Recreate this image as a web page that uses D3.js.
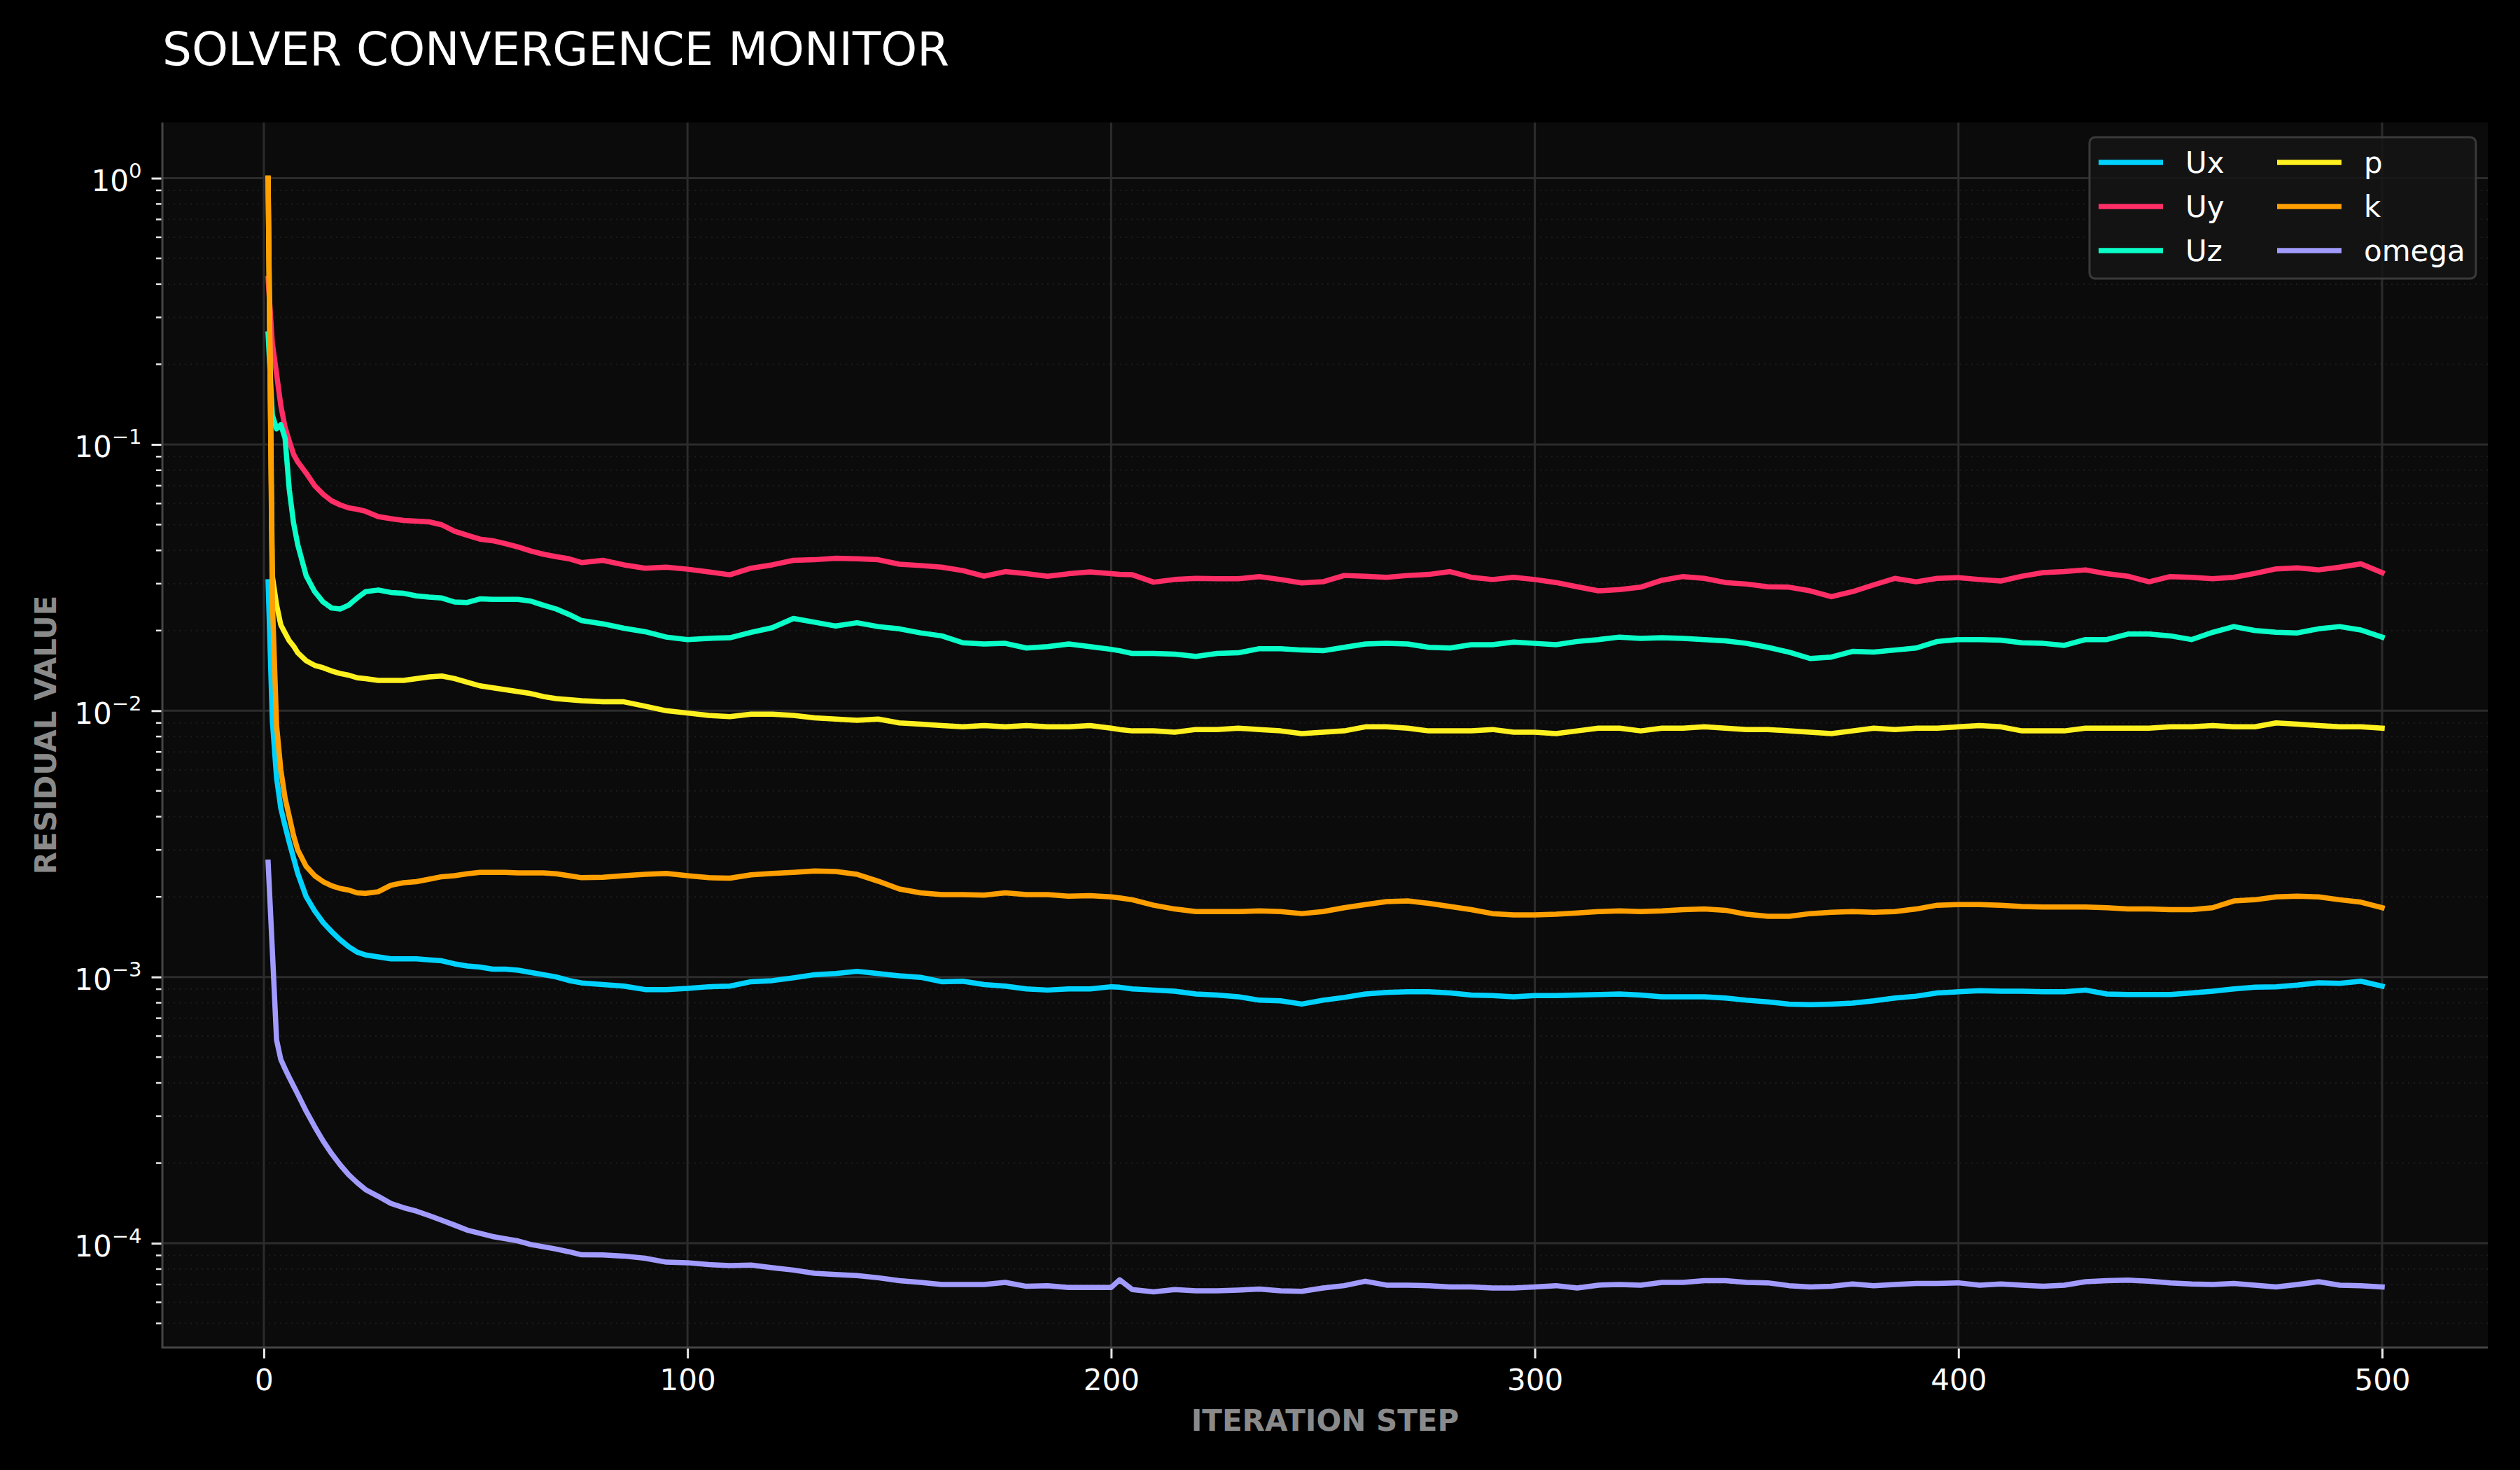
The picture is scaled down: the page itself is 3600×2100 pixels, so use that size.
<!DOCTYPE html>
<html>
<head>
<meta charset="utf-8">
<script src="https://cdn.jsdelivr.net/npm/d3@7"></script>
<style>
  html, body { margin: 0; padding: 0; background: #000; }
  svg { display: block; }
  text { font-family: "DejaVu Sans", sans-serif; }
</style>
</head>
<body>
<div id="chart"></div>
<script>
// iteration steps shared by every series
const steps = [
  1, 2, 3, 4, 5, 6, 7, 8, 10, 12, 14, 16, 18, 20, 22, 24, 27, 30, 33, 36, 39, 42, 45, 48, 51, 54, 57, 60, 63, 66, 69, 72, 75,
  80, 85, 90, 95, 100, 105, 110, 115, 120, 125, 130, 135, 140, 145, 150, 155, 160, 165, 170, 175, 180, 185, 190, 195, 200,
  202,
  205, 210, 215, 220, 225, 230, 235, 240, 245, 250, 255, 260, 265, 270, 275, 280, 285,
  290, 295, 300, 305, 310, 315, 320, 325, 330, 335, 340, 345, 350, 355, 360, 365, 370, 375, 380, 385, 390, 395,
  400, 405, 410, 415, 420, 425, 430, 435, 440, 445, 450, 455, 460, 465, 470, 475, 480, 485, 490, 495, 500
];

const seriesNames = ["Ux", "Uy", "Uz", "p", "k", "omega"];
const seriesColors = ["#00d2ff", "#ff2e66", "#0affc8", "#fff01f", "#ff9f00", "#a29bfe"];
const xTicks = [0, 100, 200, 300, 400, 500];
const yMajorTicks = [1, 0.1, 0.01, 0.001, 0.0001];

const ux = [
  0.0305, 0.0092, 0.0056, 0.0043, 0.0037, 0.0032, 0.0028, 0.00245, 0.0020, 0.00177, 0.0016, 0.00148, 0.00138, 0.0013, 0.00124, 0.00121,
  0.00119, 0.00117, 0.00117, 0.00117, 0.00116, 0.00115, 0.00112, 0.0011, 0.00109, 0.00107, 0.00107, 0.00106, 0.00104, 0.00102, 0.0010, 0.00097, 0.00095,
  0.000937, 0.000924, 0.000897, 0.000897, 0.000906, 0.000919, 0.000924, 0.00096, 0.000969, 0.000993, 0.00102, 0.00103, 0.00105,
  0.00103, 0.00101, 0.000997, 0.00096, 0.000964, 0.000937, 0.000924, 0.000902, 0.000893, 0.000902, 0.000902, 0.000919,
  0.000915,
  0.000902, 0.000893, 0.000884, 0.000863, 0.000855, 0.000843, 0.000818, 0.000814, 0.000791, 0.000818, 0.000838, 0.000863, 0.000875, 0.00088, 0.00088, 0.000871, 0.000855,
  0.000851, 0.000843, 0.000851, 0.000851, 0.000855, 0.000859, 0.000863, 0.000855, 0.000843, 0.000843, 0.000843, 0.000834, 0.000818, 0.000806, 0.000791, 0.000787, 0.000791, 0.000798, 0.000814, 0.000834, 0.000847, 0.000871,
  0.00088, 0.000888, 0.000884, 0.000884, 0.00088, 0.00088, 0.000893, 0.000863, 0.000859, 0.000859, 0.000859, 0.000871, 0.000884, 0.000902, 0.000915, 0.000919, 0.000932, 0.000951, 0.000946, 0.000964, 0.000924
];

const uy = [
  0.42, 0.24, 0.184, 0.140, 0.116, 0.103, 0.092, 0.086, 0.078, 0.070, 0.065, 0.0614, 0.0593, 0.0578, 0.0571, 0.0561,
  0.0536, 0.0526, 0.0518, 0.0515, 0.0512, 0.0499, 0.0472, 0.0456, 0.0441, 0.0435, 0.0424, 0.0412, 0.0398, 0.0387, 0.0379, 0.0372, 0.0360,
  0.0367, 0.0353, 0.0343, 0.0346, 0.0340, 0.0332, 0.0324, 0.0343, 0.0353, 0.0367, 0.0369, 0.0374, 0.0372,
  0.0369, 0.0355, 0.0351, 0.0346, 0.0336, 0.0320, 0.0333, 0.0327, 0.0320, 0.0327, 0.0332, 0.0327,
  0.0325,
  0.0324, 0.0304, 0.0311, 0.0314, 0.0313, 0.0313, 0.0319, 0.0311, 0.0302, 0.0305, 0.0322, 0.0320, 0.0317, 0.0322, 0.0325, 0.0333, 0.0317,
  0.0311, 0.0317, 0.0311, 0.0303, 0.0292, 0.0282, 0.0285, 0.0291, 0.0309, 0.0319, 0.0314, 0.0303, 0.0299, 0.0292, 0.0291, 0.0282, 0.0268, 0.0280, 0.0297, 0.0314, 0.0305, 0.0314,
  0.0316, 0.0311, 0.0307, 0.0320, 0.0330, 0.0333, 0.0338, 0.0327, 0.0320, 0.0305, 0.0319, 0.0317, 0.0313, 0.0317, 0.0328, 0.0341, 0.0344, 0.0338, 0.0346, 0.0356, 0.0330
];

const uz = [
  0.26, 0.129, 0.1145, 0.1186, 0.1056, 0.0676, 0.0508, 0.042, 0.0321, 0.028, 0.0256, 0.0243, 0.0241, 0.0249, 0.0265, 0.028,
  0.0284, 0.0278, 0.0276, 0.027, 0.0267, 0.0265, 0.0256, 0.0255, 0.0263, 0.0262, 0.0262, 0.0262, 0.0258, 0.0249, 0.0241, 0.0230, 0.0218,
  0.0212, 0.0204, 0.0198, 0.0189, 0.0185, 0.0187, 0.0188, 0.0197, 0.0205, 0.0222, 0.0215, 0.0208, 0.0214,
  0.0207, 0.0203, 0.0196, 0.0191, 0.0180, 0.0178, 0.0179, 0.0172, 0.0174, 0.0178, 0.0174, 0.0170,
  0.0168,
  0.0164, 0.0164, 0.0163, 0.0160, 0.0164, 0.0165, 0.0171, 0.0171, 0.0169, 0.0168, 0.0173, 0.0178, 0.0179, 0.0178, 0.0173, 0.0172, 0.0177,
  0.0177, 0.0181, 0.0179, 0.0177, 0.0182, 0.0185, 0.0189, 0.0187, 0.0188, 0.0187, 0.0185, 0.0183, 0.0179, 0.0173, 0.0166, 0.0157, 0.0159, 0.0167, 0.0166, 0.0169, 0.0172, 0.0182,
  0.0185, 0.0185, 0.0184, 0.0180, 0.0179, 0.0176, 0.0185, 0.0185, 0.0194, 0.0194, 0.0191, 0.0185, 0.0197, 0.0207, 0.0200, 0.0197, 0.0196, 0.0203, 0.0207, 0.0201, 0.0189
];

const p = [
  1.0, 0.032, 0.025, 0.021, 0.0196, 0.0183, 0.0175, 0.0165, 0.0154, 0.0148, 0.0145, 0.0141, 0.0138, 0.0136, 0.0133, 0.0132,
  0.0130, 0.0130, 0.0130, 0.0132, 0.0134, 0.0135, 0.0132, 0.0128, 0.0124, 0.0122, 0.0120, 0.0118, 0.0116, 0.0113, 0.0111, 0.0110, 0.0109,
  0.0108, 0.0108, 0.0104, 0.0100, 0.0098, 0.0096, 0.0095, 0.0097, 0.0097, 0.0096, 0.0094, 0.0093, 0.0092,
  0.0093, 0.0090, 0.0089, 0.0088, 0.0087, 0.0088, 0.0087, 0.0088, 0.0087, 0.0087, 0.0088, 0.0086,
  0.0085,
  0.0084, 0.0084, 0.0083, 0.0085, 0.0085, 0.0086, 0.0085, 0.0084, 0.0082, 0.0083, 0.0084, 0.0087, 0.0087, 0.0086, 0.0084, 0.0084, 0.0084,
  0.0085, 0.0083, 0.0083, 0.0082, 0.0084, 0.0086, 0.0086, 0.0084, 0.0086, 0.0086, 0.0087, 0.0086, 0.0085, 0.0085, 0.0084, 0.0083, 0.0082, 0.0084, 0.0086, 0.0085, 0.0086, 0.0086,
  0.0087, 0.0088, 0.0087, 0.0084, 0.0084, 0.0084, 0.0086, 0.0086, 0.0086, 0.0086, 0.0087, 0.0087, 0.0088, 0.0087, 0.0087, 0.0090, 0.0089, 0.0088, 0.0087, 0.0087, 0.0086
];

const k = [
  1.0, 0.026, 0.0088, 0.0060, 0.0047, 0.0040, 0.0034, 0.0030, 0.0026, 0.0024, 0.00228, 0.0022, 0.00215, 0.00212, 0.00207, 0.00206,
  0.00209, 0.00221, 0.00226, 0.00228, 0.00233, 0.00238, 0.0024, 0.00244, 0.00247, 0.00247, 0.00247, 0.00246, 0.00246, 0.00246, 0.00244, 0.0024, 0.00236,
  0.00237, 0.0024, 0.00243, 0.00245, 0.0024, 0.00236, 0.00235, 0.00242, 0.00245, 0.00247, 0.0025, 0.00249, 0.00243,
  0.00229, 0.00214, 0.00207, 0.00204, 0.00204, 0.00203, 0.00207, 0.00204, 0.00204, 0.00201, 0.00202, 0.0020,
  0.00198,
  0.00195, 0.00186, 0.0018, 0.00176, 0.00176, 0.00176, 0.00177, 0.00176, 0.00173, 0.00176, 0.00182, 0.00187, 0.00192, 0.00193, 0.00189, 0.00184, 0.00179,
  0.00173, 0.00171, 0.00171, 0.00172, 0.00174, 0.00176, 0.00177, 0.00176, 0.00177, 0.00179, 0.0018, 0.00178, 0.00172, 0.00169, 0.00169, 0.00173, 0.00175, 0.00176, 0.00175, 0.00176, 0.0018, 0.00186,
  0.00187, 0.00187, 0.00186, 0.00184, 0.00183, 0.00183, 0.00183, 0.00182, 0.0018, 0.0018, 0.00179, 0.00179, 0.00182, 0.00193, 0.00195, 0.002, 0.00201, 0.002, 0.00195, 0.00191, 0.00182
];

const omega = [
  0.0027, 0.00126, 0.00058, 0.00049, 0.000452, 0.000419, 0.00039, 0.000363, 0.000313, 0.000274, 0.000242, 0.000217, 0.000197, 0.000181, 0.000169, 0.000159,
  0.00015, 0.000141, 0.000136, 0.000132, 0.000127, 0.000122, 0.000117, 0.000112, 0.000109, 0.000106, 0.000104, 0.000102, 0.0000989, 0.000097, 0.0000951, 0.0000929, 0.0000905,
  0.0000904, 0.0000895, 0.0000878, 0.0000849, 0.0000845, 0.0000832, 0.0000824, 0.0000828, 0.0000809, 0.0000793, 0.0000771, 0.0000763, 0.0000756,
  0.0000742, 0.0000724, 0.0000713, 0.00007, 0.00007, 0.00007, 0.0000713, 0.0000689, 0.0000693, 0.0000682, 0.0000682, 0.0000682,
  0.0000729,
  0.000067, 0.0000657, 0.000067, 0.0000663, 0.0000663, 0.0000667, 0.0000673, 0.0000663, 0.000066, 0.0000679, 0.0000693, 0.000072, 0.0000696, 0.0000696, 0.0000693, 0.0000685, 0.0000685,
  0.0000679, 0.0000679, 0.0000685, 0.0000693, 0.0000679, 0.0000696, 0.00007, 0.0000696, 0.0000713, 0.0000713, 0.0000724, 0.0000724, 0.0000713, 0.000071, 0.0000693, 0.0000685, 0.0000689, 0.0000703, 0.0000693, 0.00007, 0.0000706, 0.0000706,
  0.000071, 0.0000696, 0.0000703, 0.0000696, 0.0000689, 0.0000696, 0.0000717, 0.0000724, 0.0000727, 0.000072, 0.000071, 0.0000703, 0.00007, 0.0000706, 0.0000696, 0.0000685, 0.00007, 0.0000717, 0.0000696, 0.0000693, 0.0000685
];

const seriesValues = [ux, uy, uz, p, k, omega];

// ---- layout ----
const width = 3600, height = 2100;
const margin = { left: 232, top: 175, right: 46, bottom: 175 };
const plotRight = width - margin.right;
const plotBottom = height - margin.bottom;

const svg = d3.select("#chart")
  .append("svg")
  .attr("width", width)
  .attr("height", height)
  .style("background", "#000");

svg.append("rect")
  .attr("width", width).attr("height", height).attr("fill", "#000");

// scales, with matplotlib-like 5% margins
const xPad = (d3.max(steps) - d3.min(steps)) * 0.05;
const x = d3.scaleLinear()
  .domain([d3.min(steps) - xPad, d3.max(steps) + xPad])
  .range([margin.left, plotRight]);

const allValues = seriesValues.flat();
const lMin = Math.log10(d3.min(allValues));
const lMax = Math.log10(d3.max(allValues));
const lPad = (lMax - lMin) * 0.05;
const y = d3.scaleLog()
  .domain([Math.pow(10, lMin - lPad), Math.pow(10, lMax + lPad)])
  .range([plotBottom, margin.top]);

// plot background
svg.append("rect")
  .attr("x", margin.left).attr("y", margin.top)
  .attr("width", plotRight - margin.left)
  .attr("height", plotBottom - margin.top)
  .attr("fill", "#0b0b0b");

// minor grid (dotted) and major grid
const minorTicks = y.ticks().filter(d => !yMajorTicks.some(m => Math.abs(m - d) / m < 1e-6));

svg.append("g")
  .selectAll("line")
  .data(minorTicks)
  .enter()
  .append("line")
    .attr("x1", margin.left).attr("x2", plotRight)
    .attr("y1", d => y(d)).attr("y2", d => y(d))
    .attr("stroke", "#1c1c1c")
    .attr("stroke-width", 2)
    .attr("stroke-dasharray", "2 6");

const grid = svg.append("g").attr("stroke", "#2c2c2c").attr("stroke-width", 3);
grid.selectAll(".hgrid")
  .data(yMajorTicks)
  .enter()
  .append("line")
    .attr("class", "hgrid")
    .attr("x1", margin.left).attr("x2", plotRight)
    .attr("y1", d => y(d)).attr("y2", d => y(d));
grid.selectAll(".vgrid")
  .data(xTicks)
  .enter()
  .append("line")
    .attr("class", "vgrid")
    .attr("x1", d => x(d)).attr("x2", d => x(d))
    .attr("y1", margin.top).attr("y2", plotBottom);

// lines
svg.append("clipPath").attr("id", "plot-clip")
  .append("rect")
    .attr("x", margin.left).attr("y", margin.top)
    .attr("width", plotRight - margin.left)
    .attr("height", plotBottom - margin.top);

const line = d3.line()
  .x((d, i) => x(steps[i]))
  .y(d => y(d));

svg.append("g")
  .attr("clip-path", "url(#plot-clip)")
  .selectAll(".series")
  .data(seriesValues)
  .enter()
  .append("path")
    .attr("class", "series")
    .attr("d", line)
    .attr("fill", "none")
    .attr("stroke", (d, i) => seriesColors[i])
    .attr("stroke-width", 7.5)
    .attr("stroke-linejoin", "round")
    .attr("stroke-linecap", "square");

// spines
svg.append("line")
  .attr("x1", margin.left).attr("x2", margin.left)
  .attr("y1", margin.top).attr("y2", plotBottom)
  .attr("stroke", "#454545").attr("stroke-width", 3);
svg.append("line")
  .attr("x1", margin.left - 1.5).attr("x2", plotRight)
  .attr("y1", plotBottom).attr("y2", plotBottom)
  .attr("stroke", "#454545").attr("stroke-width", 3);

// x axis
const gx = svg.append("g")
  .attr("transform", "translate(0," + (plotBottom + 1.5) + ")")
  .call(d3.axisBottom(x).tickValues(xTicks).tickSize(14).tickPadding(16).tickFormat(d3.format("d")));
gx.select(".domain").remove();
gx.selectAll(".tick line").attr("stroke", "#e8e8e8").attr("stroke-width", 3);
gx.selectAll(".tick text")
  .attr("fill", "#ffffff")
  .style("font-family", "DejaVu Sans")
  .style("font-size", "42px");

// y axis: major ticks with 10^n labels
const gy = svg.append("g")
  .attr("transform", "translate(" + (margin.left - 1.5) + ",0)")
  .call(d3.axisLeft(y).tickValues(yMajorTicks).tickSize(14).tickFormat(""));
gy.select(".domain").remove();
gy.selectAll(".tick line").attr("stroke", "#e8e8e8").attr("stroke-width", 3);
gy.selectAll(".tick").each(function(d) {
  const e = Math.round(Math.log10(d));
  const t = d3.select(this).append("text")
    .attr("x", -28)
    .attr("y", 18)
    .attr("text-anchor", "end")
    .attr("fill", "#ffffff")
    .style("font-family", "DejaVu Sans")
    .style("font-size", "42px");
  t.append("tspan").text("10");
  t.append("tspan")
    .attr("dy", -19)
    .style("font-size", "29px")
    .text(e < 0 ? "\u2212" + Math.abs(e) : String(e));
});

// y minor ticks
svg.append("g")
  .selectAll("line")
  .data(minorTicks)
  .enter()
  .append("line")
    .attr("x1", margin.left - 9).attr("x2", margin.left - 1.5)
    .attr("y1", d => y(d)).attr("y2", d => y(d))
    .attr("stroke", "#e8e8e8")
    .attr("stroke-width", 2.5);

// axis labels
svg.append("text")
  .attr("x", (margin.left + plotRight) / 2)
  .attr("y", 2044)
  .attr("text-anchor", "middle")
  .attr("fill", "#8a8a8a")
  .style("font-size", "42px")
  .style("font-weight", "bold")
  .text("ITERATION STEP");

svg.append("text")
  .attr("transform", "translate(80," + ((margin.top + plotBottom) / 2) + ") rotate(-90)")
  .attr("text-anchor", "middle")
  .attr("fill", "#8a8a8a")
  .style("font-size", "42px")
  .style("font-weight", "bold")
  .text("RESIDUAL VALUE");

// title
svg.append("text")
  .attr("x", margin.left)
  .attr("y", 93)
  .attr("fill", "#ffffff")
  .style("font-size", "66px")
  .text("SOLVER CONVERGENCE MONITOR");

// legend
const legend = svg.append("g");
legend.append("rect")
  .attr("x", 2985).attr("y", 196)
  .attr("width", 552).attr("height", 202)
  .attr("rx", 8).attr("ry", 8)
  .attr("fill", "#151515")
  .attr("fill-opacity", 0.85)
  .attr("stroke", "#3a3a3a")
  .attr("stroke-width", 3);

const legendItems = legend.selectAll(".legend-item")
  .data(seriesNames)
  .enter()
  .append("g")
    .attr("class", "legend-item")
    .attr("transform", (d, i) => "translate(" + (2998 + Math.floor(i / 3) * 255) + "," + (232 + (i % 3) * 63) + ")");

legendItems.append("line")
  .attr("x1", 0).attr("x2", 92)
  .attr("y1", 0).attr("y2", 0)
  .attr("stroke", (d, i) => seriesColors[i])
  .attr("stroke-width", 7.5);

legendItems.append("text")
  .attr("x", 124)
  .attr("y", 15)
  .attr("fill", "#ffffff")
  .style("font-size", "42px")
  .text(d => d);
</script>
</body>
</html>
